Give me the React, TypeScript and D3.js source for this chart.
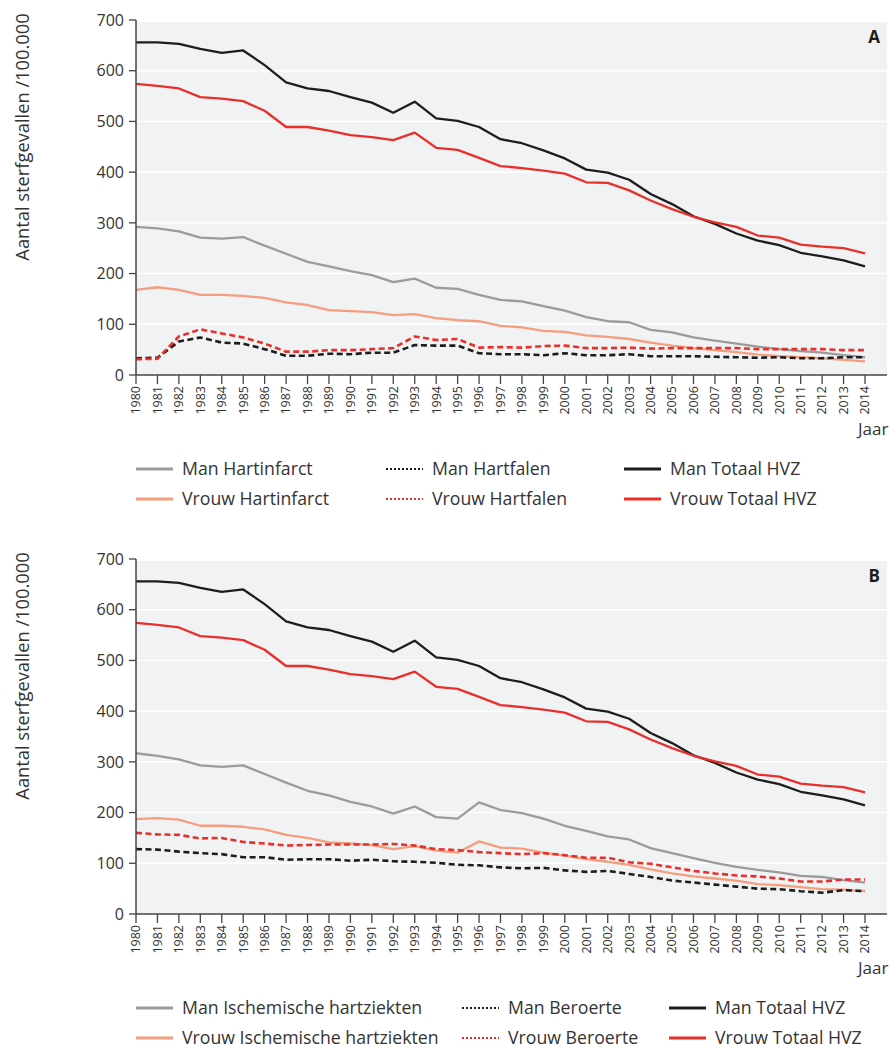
import React from "react";
import * as d3 from "d3";

const years = d3.range(1980, 2015);

const manTotaal = [656, 656, 653, 643, 635, 640, 611, 577, 565, 560, 548, 537, 517, 539, 506, 501, 489, 465, 457, 443, 427, 405, 399, 385, 357, 337, 313, 298, 279, 265, 256, 241, 234, 226, 214];
const vrouwTotaal = [574, 570, 565, 548, 545, 540, 521, 489, 489, 482, 473, 469, 463, 478, 448, 444, 428, 412, 408, 403, 397, 380, 379, 364, 344, 327, 312, 301, 292, 275, 271, 257, 253, 250, 240];

const manHartinfarct = [292, 289, 283, 271, 269, 272, 255, 239, 223, 214, 205, 197, 183, 190, 172, 170, 158, 148, 145, 136, 127, 114, 106, 104, 89, 84, 74, 68, 62, 56, 51, 47, 44, 39, 35];
const vrouwHartinfarct = [168, 173, 168, 158, 158, 156, 152, 143, 138, 128, 126, 124, 118, 120, 112, 108, 106, 97, 94, 87, 85, 78, 75, 71, 64, 58, 53, 49, 45, 40, 37, 35, 33, 30, 27];
const manHartfalen = [33, 34, 66, 74, 64, 62, 51, 38, 38, 42, 41, 44, 44, 59, 58, 58, 43, 41, 41, 39, 43, 39, 39, 41, 37, 37, 37, 36, 35, 34, 35, 33, 33, 35, 35];
const vrouwHartfalen = [31, 32, 76, 90, 82, 74, 62, 46, 46, 49, 49, 51, 53, 76, 69, 71, 54, 55, 54, 57, 58, 53, 53, 54, 52, 53, 53, 53, 53, 51, 51, 51, 51, 49, 49];

const manIschemisch = [317, 312, 305, 293, 290, 293, 276, 259, 243, 234, 221, 212, 198, 212, 191, 188, 220, 205, 199, 188, 174, 164, 153, 147, 130, 120, 110, 101, 93, 87, 82, 75, 73, 67, 62];
const vrouwIschemisch = [187, 189, 186, 174, 174, 172, 167, 156, 150, 141, 139, 136, 128, 134, 125, 121, 143, 131, 129, 121, 115, 108, 103, 97, 88, 80, 74, 70, 66, 59, 57, 53, 49, 48, 45];
const manBeroerte = [128, 127, 123, 120, 118, 112, 112, 107, 108, 108, 105, 107, 104, 103, 101, 97, 96, 92, 90, 91, 86, 83, 85, 79, 73, 66, 62, 58, 54, 50, 49, 45, 42, 47, 45];
const vrouwBeroerte = [160, 157, 156, 149, 150, 142, 139, 135, 136, 137, 137, 137, 138, 135, 128, 126, 122, 120, 118, 120, 116, 111, 111, 102, 99, 92, 85, 80, 76, 74, 70, 64, 64, 68, 68];

const yTicks = [0, 100, 200, 300, 400, 500, 600, 700];

const legendA = ["Man Hartinfarct", "Vrouw Hartinfarct", "Man Hartfalen", "Vrouw Hartfalen", "Man Totaal HVZ", "Vrouw Totaal HVZ"];
const legendB = ["Man Ischemische hartziekten", "Vrouw Ischemische hartziekten", "Man Beroerte", "Vrouw Beroerte", "Man Totaal HVZ", "Vrouw Totaal HVZ"];

const C_BLACK = "#1d1d1b";
const C_RED = "#e8302a";
const C_GRAY = "#9b9b9b";
const C_SALMON = "#f69d7d";
const BG = "#f1f2f4";
const TXT = "#333333";
const FONT = "'Open Sans', 'Noto Sans', sans-serif";

type Series = { values: number[]; color: string; dashed: boolean };

function Panel({ top, letter, series, legend, col2x, col3x }: { top: number; letter: string; series: Series[]; legend: string[]; col2x: number; col3x: number }) {
  const x = d3.scaleLinear().domain([1980, 2014]).range([136, 865]);
  const y = d3.scaleLinear().domain([0, 700]).range([top + 355, top]);
  const line = d3.line<number>().x((_, i) => x(years[i])).y((d) => y(d));
  const bottom = y(0);
  const xRight = 887;
  const cols = [136, col2x, col3x];
  return (
    <g>
      <rect x={x(1980)} y={y(700) + 2} width={xRight - x(1980)} height={bottom - y(700) - 2} fill={BG} />
      {yTicks.filter((t) => t > 0 && t < 700).map((t) => (
        <line key={t} x1={x(1980)} x2={xRight} y1={y(t)} y2={y(t)} stroke="#ffffff" strokeWidth={1.5} />
      ))}
      {series.map((s, i) => (
        <path key={i} d={line(s.values) || ""} fill="none" stroke={s.color} strokeWidth={s.dashed ? 2.6 : 2.3} strokeDasharray={s.dashed ? "6,3.5" : undefined} strokeLinejoin="round" />
      ))}
      {/* y axis */}
      <line x1={x(1980)} x2={x(1980)} y1={y(700)} y2={bottom} stroke="#444" strokeWidth={1.5} />
      {yTicks.map((t) => (
        <g key={t}>
          <line x1={x(1980) - 7} x2={x(1980)} y1={y(t)} y2={y(t)} stroke="#444" strokeWidth={1.3} />
          <text x={124} y={y(t)} dy="0.36em" textAnchor="end" fontSize={16} fill={TXT} fontFamily={FONT}>{t}</text>
        </g>
      ))}
      {/* x axis */}
      <line x1={x(1980)} x2={xRight} y1={bottom} y2={bottom} stroke="#444" strokeWidth={1.5} />
      {years.map((yr) => (
        <g key={yr}>
          <line x1={x(yr)} x2={x(yr)} y1={bottom} y2={bottom + 9} stroke="#444" strokeWidth={1.3} />
          <text transform={`translate(${x(yr)},${bottom + 11}) rotate(-90)`} textAnchor="end" dy="0.35em" fontSize={12.5} fill={TXT} fontFamily={FONT}>{yr}</text>
        </g>
      ))}
      <text x={858} y={bottom + 60} fontSize={17} fill={TXT} fontFamily={FONT}>Jaar</text>
      <text x={880} y={top + 23} textAnchor="end" fontSize={17} fontWeight="bold" fill={C_BLACK} fontFamily={FONT}>{letter}</text>
      <text transform={`translate(29,${top + 117}) rotate(-90)`} textAnchor="middle" fontSize={18.3} fill={TXT} fontFamily={FONT}>Aantal sterfgevallen /100.000</text>
      {/* legend */}
      {legend.map((lab, i) => {
        const c = Math.floor(i / 2);
        const r = i % 2;
        const lx = cols[c];
        const ly = bottom + 94 + r * 30;
        const s = series[i];
        return (
          <g key={lab}>
            <line x1={lx} x2={lx + 37} y1={ly} y2={ly} stroke={s.color} strokeWidth={s.dashed ? 2 : 3} strokeDasharray={s.dashed ? "2,2" : undefined} />
            <text x={lx + 46} y={ly + 6} fontSize={17.7} fill={TXT} fontFamily={FONT}>{lab}</text>
          </g>
        );
      })}
    </g>
  );
}

export default function App() {
  const seriesA: Series[] = [
    { values: manHartinfarct, color: C_GRAY, dashed: false },
    { values: vrouwHartinfarct, color: C_SALMON, dashed: false },
    { values: manHartfalen, color: C_BLACK, dashed: true },
    { values: vrouwHartfalen, color: C_RED, dashed: true },
    { values: manTotaal, color: C_BLACK, dashed: false },
    { values: vrouwTotaal, color: C_RED, dashed: false },
  ];
  const seriesB: Series[] = [
    { values: manIschemisch, color: C_GRAY, dashed: false },
    { values: vrouwIschemisch, color: C_SALMON, dashed: false },
    { values: manBeroerte, color: C_BLACK, dashed: true },
    { values: vrouwBeroerte, color: C_RED, dashed: true },
    { values: manTotaal, color: C_BLACK, dashed: false },
    { values: vrouwTotaal, color: C_RED, dashed: false },
  ];
  return (
    <svg width={890} height={1049} style={{ position: "absolute", left: 0, top: 0, background: "#fff" }}>
      <Panel top={20} letter="A" series={seriesA} legend={legendA} col2x={386} col3x={624} />
      <Panel top={559} letter="B" series={seriesB} legend={legendB} col2x={462} col3x={669} />
    </svg>
  );
}
